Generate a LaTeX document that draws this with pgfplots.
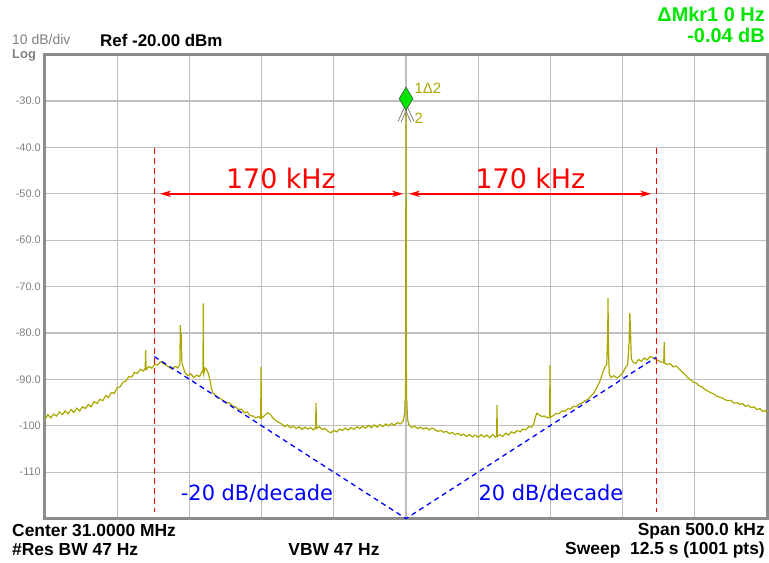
\documentclass[border=0pt]{standalone}
\usepackage{pgfplots}
\pgfplotsset{compat=1.18}
\usepackage{fontspec}
\setmainfont{Liberation Sans}
\newfontfamily\dejavu{DejaVu Sans}
\definecolor{trace}{RGB}{170,168,0}
\definecolor{gridgray}{RGB}{190,190,190}
\definecolor{framegray}{RGB}{140,140,140}
\definecolor{labgray}{RGB}{128,128,128}
\definecolor{mkrgreen}{RGB}{0,230,0}
\definecolor{mkrdark}{RGB}{60,90,60}
\definecolor{spanred}{RGB}{255,0,0}

\pgfplotstableread{
f dbm
-250 -98.6
-248 -97.6
-246 -98.3
-244 -97.5
-242 -97.9
-240 -97.0
-238 -97.6
-236 -96.8
-234 -97.4
-232 -96.5
-230 -97.1
-228 -96.2
-226 -96.8
-224 -95.9
-222 -96.3
-220 -95.4
-218 -95.9
-216 -94.8
-214 -95.2
-212 -94.3
-210 -94.6
-208 -93.5
-206 -93.9
-204 -92.8
-202 -93.0
-200 -91.8
-198 -91.6
-196 -90.6
-194 -90.4
-192 -89.4
-190 -89.5
-188 -88.5
-186 -88.7
-184 -87.8
-182 -88.2
-180.6 -87.6
-180.3 -83.7
-180.0 -87.9
-178 -87.2
-176 -87.6
-174 -86.7
-172 -86.9
-170 -86.2
-168 -86.6
-166 -87.0
-164 -87.4
-162 -87.8
-160 -87.2
-158 -87.5
-156.6 -86.8
-156.3 -78.3
-156.0 -81.5
-155.6 -81.0
-155.2 -86.5
-153 -88.6
-151 -89.2
-149 -88.8
-147 -89.6
-145 -89.1
-143 -89.4
-141 -88.2
-140.6 -88.4
-140.4 -73.6
-140.1 -88.8
-139 -87.6
-138 -87.9
-137 -88.6
-136 -89.8
-135 -91.5
-134 -92.8
-132 -93.4
-130 -93.9
-128 -94.2
-126 -94.7
-124 -95.0
-122 -95.1
-120 -95.8
-118 -95.9
-116 -96.5
-114 -96.4
-112 -97.2
-110 -97.0
-108 -97.8
-106 -97.9
-104 -98.3
-102 -98.0
-100.6 -98.4
-100.4 -87.3
-100.1 -98.4
-98 -97.8
-96 -97.2
-94 -97.5
-92 -98.4
-90 -98.9
-88 -99.3
-86 -99.6
-84 -100.2
-82 -99.8
-80 -100.4
-78 -100.1
-76 -100.6
-74 -100.2
-72 -100.8
-70 -100.3
-68 -100.7
-66 -100.4
-64 -100.9
-62.6 -100.3
-62.3 -95.1
-62.0 -100.6
-60 -100.2
-58 -100.8
-56 -100.6
-54 -101.2
-52 -101.5
-50 -101.0
-48 -101.3
-46 -100.7
-44 -101.0
-42 -100.5
-40 -100.9
-38 -100.4
-36 -100.8
-34 -100.2
-32 -100.6
-30 -100.1
-28 -100.5
-26 -99.9
-24 -100.4
-22 -99.8
-20 -100.3
-18 -99.7
-16 -100.2
-14 -99.6
-12 -100.0
-10 -99.5
-8 -99.9
-6 -99.3
-4 -99.6
-2 -99.0
-1 -97.5
-0.6 -94.4
-0.3 -94.4
0 -30.0
0.3 -94.4
0.6 -94.6
1 -98.5
2 -99.8
4 -100.4
6 -100.1
8 -100.6
10 -100.3
12 -100.7
14 -100.4
16 -100.9
18 -100.5
20 -100.8
22 -101.2
24 -101.0
26 -101.4
28 -101.2
30 -101.7
32 -101.4
34 -101.9
36 -101.6
38 -102.1
40 -101.8
42 -102.3
44 -101.9
46 -102.4
48 -102.0
50 -102.5
52 -101.9
54 -102.4
56 -102.0
58 -102.6
60 -101.9
62 -102.5
62.8 -102.2
63.0 -95.5
63.3 -102.3
65 -101.9
67 -102.3
69 -101.6
71 -102.0
73 -101.3
75 -101.6
77 -101.0
79 -101.3
81 -100.7
83 -100.9
85 -100.2
87 -100.3
88.5 -99.6
89.5 -98.3
90.5 -97.3
92 -97.6
94 -98.0
96 -97.9
98 -98.3
99.5 -98.1
99.7 -86.9
100 -98.2
102 -97.8
104 -97.3
106 -97.4
108 -96.8
110 -96.9
112 -96.3
114 -96.4
116 -95.8
118 -95.9
120 -95.3
122 -95.1
124 -94.6
126 -94.3
128 -93.6
130 -93.0
132 -91.8
134 -90.6
136 -88.8
137.5 -87.5
139 -86.8
139.7 -80.0
139.9 -72.5
140.2 -84.0
140.8 -88.8
142 -89.6
144 -89.2
146 -89.7
148 -89.3
150 -88.6
152 -87.5
153.5 -86.8
154.5 -82.0
155 -75.7
155.5 -80.0
156 -85.5
157 -86.2
159 -86.6
161 -85.7
163 -86.1
165 -85.4
167 -85.8
169 -85.1
171 -85.3
173 -85.7
175 -86.0
177 -86.3
178.5 -86.4
178.8 -81.9
179.1 -86.5
181 -86.8
183 -86.6
185 -87.3
187 -87.1
189 -87.7
191 -88.3
193 -88.9
195 -89.6
197 -90.1
199 -90.6
201 -90.8
203 -91.4
205 -91.6
207 -92.2
209 -92.5
211 -92.9
213 -93.1
215 -93.6
217 -93.8
219 -94.0
221 -94.4
223 -94.6
225 -94.5
227 -95.1
229 -95.0
231 -95.4
233 -95.2
235 -95.8
237 -95.6
239 -96.1
241 -95.9
243 -96.5
245 -96.3
247 -96.9
249 -96.7
250 -97.2
}\spectrum

\begin{document}
\begin{tikzpicture}[x=1bp,y=1bp]
\begin{axis}[
    at={(0,0)}, anchor=south west,
    scale only axis,
    width=722bp, height=464bp,
    xmin=-250, xmax=250,
    ymin=-120, ymax=-20,
    xtick={-200,-150,...,200},
    xticklabels=\empty,
    ytick={-110,-100,-90,-80,-70,-60,-50,-40,-30},
    yticklabels={-110,-100,-90.0,-80.0,-70.0,-60.0,-50.0,-40.0,-30.0},
    yticklabel style={font=\fontsize{11}{12}\selectfont, text=labgray, inner sep=0pt, xshift=-4bp},
    major tick length=0pt,
    grid=major,
    grid style={gridgray, line width=1.1bp},
    axis line style={framegray, line width=3bp},
    clip=false,
]
% trace
\addplot[trace, line width=1.2bp, no marks] table[x=f, y=dbm] {\spectrum};

% marker 1 delta 2
\addplot[only marks, mark=diamond*, mark size=11.5bp,
    mark options={xscale=0.8, fill=mkrgreen, draw=mkrdark, line width=0.6bp}]
    coordinates {(0,-29.5)};
\draw[labgray, line width=0.8bp] (axis cs:-5.5,-34.4) -- (axis cs:0,-30.6) -- (axis cs:5.5,-34.4);
\draw[labgray, line width=0.8bp] (axis cs:-3.5,-34.6) -- (axis cs:0,-32.2) -- (axis cs:3.5,-34.6);
\node[trace, anchor=west, inner sep=0pt, font=\fontsize{15}{16}\selectfont] at (axis cs:5.8,-27.2) {1Δ2};
\node[trace, anchor=west, inner sep=0pt, font=\fontsize{15}{16}\selectfont] at (axis cs:5.8,-33.8) {2};

% red span markers
\draw[spanred, line width=1.4bp, dash pattern=on 6bp off 4bp] (axis cs:-174.3,-40.2) -- (axis cs:-174.3,-118.6);
\draw[spanred, line width=1.4bp, dash pattern=on 6bp off 4bp] (axis cs:173.4,-40.2) -- (axis cs:173.4,-118.6);
\draw[spanred, line width=1.8bp] (axis cs:-165,-50) -- (axis cs:-6,-50);
\draw[spanred, line width=1.8bp] (axis cs:6,-50) -- (axis cs:165,-50);
\fill[spanred] (axis cs:-170.4,-50) -- ++(11bp,3.2bp) -- ++(-3bp,-3.2bp) -- ++(3bp,-3.2bp) -- cycle;
\fill[spanred] (axis cs:-2,-50) -- ++(-11bp,3.2bp) -- ++(3bp,-3.2bp) -- ++(-3bp,-3.2bp) -- cycle;
\fill[spanred] (axis cs:2,-50) -- ++(11bp,3.2bp) -- ++(-3bp,-3.2bp) -- ++(3bp,-3.2bp) -- cycle;
\fill[spanred] (axis cs:169.8,-50) -- ++(-11bp,3.2bp) -- ++(3bp,-3.2bp) -- ++(-3bp,-3.2bp) -- cycle;
\node[spanred, anchor=base, inner sep=0pt, font=\dejavu\fontsize{27}{30}\selectfont] at (axis cs:-86.6,-48.8) {170 kHz};
\node[spanred, anchor=base, inner sep=0pt, font=\dejavu\fontsize{27}{30}\selectfont] at (axis cs:86.2,-48.8) {170 kHz};

% blue slopes
\draw[blue, line width=1.3bp, dash pattern=on 5bp off 4bp] (axis cs:-174.3,-85.1) -- (axis cs:0,-120) -- (axis cs:173.4,-85.2);
\node[blue, anchor=base, inner sep=0pt, font=\dejavu\fontsize{21}{24}\selectfont] at (axis cs:-103.2,-116.0) {-20 dB/decade};
\node[blue, anchor=base, inner sep=0pt, font=\dejavu\fontsize{21}{24}\selectfont] at (axis cs:100.4,-116.0) {20 dB/decade};
\end{axis}

% header and footer annotations
\node[labgray, anchor=base west, inner sep=0pt, font=\fontsize{14}{14}\selectfont] at (-33,474) {10 dB/div};
\node[labgray, anchor=base west, inner sep=0pt, font=\bfseries\fontsize{13}{13}\selectfont] at (-33,460.5) {Log};
\node[black, anchor=base west, inner sep=0pt, font=\bfseries\fontsize{17}{18}\selectfont] at (55,471.9) {Ref -20.00 dBm};
\node[mkrgreen, anchor=east, inner sep=0pt, font=\bfseries\fontsize{20}{21}\selectfont] at (720,504.6) {ΔMkr1 0 Hz};
\node[mkrgreen, anchor=east, inner sep=0pt, font=\bfseries\fontsize{20}{21}\selectfont] at (720,483.6) {-0.04 dB};
\node[black, anchor=west, inner sep=0pt, font=\bfseries\fontsize{17.5}{18}\selectfont] at (-33,-12.4) {Center 31.0000 MHz};
\node[black, anchor=west, inner sep=0pt, font=\bfseries\fontsize{17.5}{18}\selectfont] at (-33,-31.4) {\#Res BW 47 Hz};
\node[black, anchor=center, inner sep=0pt, font=\bfseries\fontsize{17.5}{18}\selectfont] at (289,-31.4) {VBW 47 Hz};
\node[black, anchor=east, inner sep=0pt, font=\bfseries\fontsize{17.5}{18}\selectfont] at (720,-12.4) {Span 500.0 kHz};
\node[black, anchor=east, inner sep=0pt, font=\bfseries\fontsize{17.5}{18}\selectfont] at (720,-31.4) {Sweep\ \ 12.5 s (1001 pts)};

\pgfresetboundingbox
\path[use as bounding box] (-45,-44.4) rectangle (724,518.6);
\end{tikzpicture}
\end{document}
